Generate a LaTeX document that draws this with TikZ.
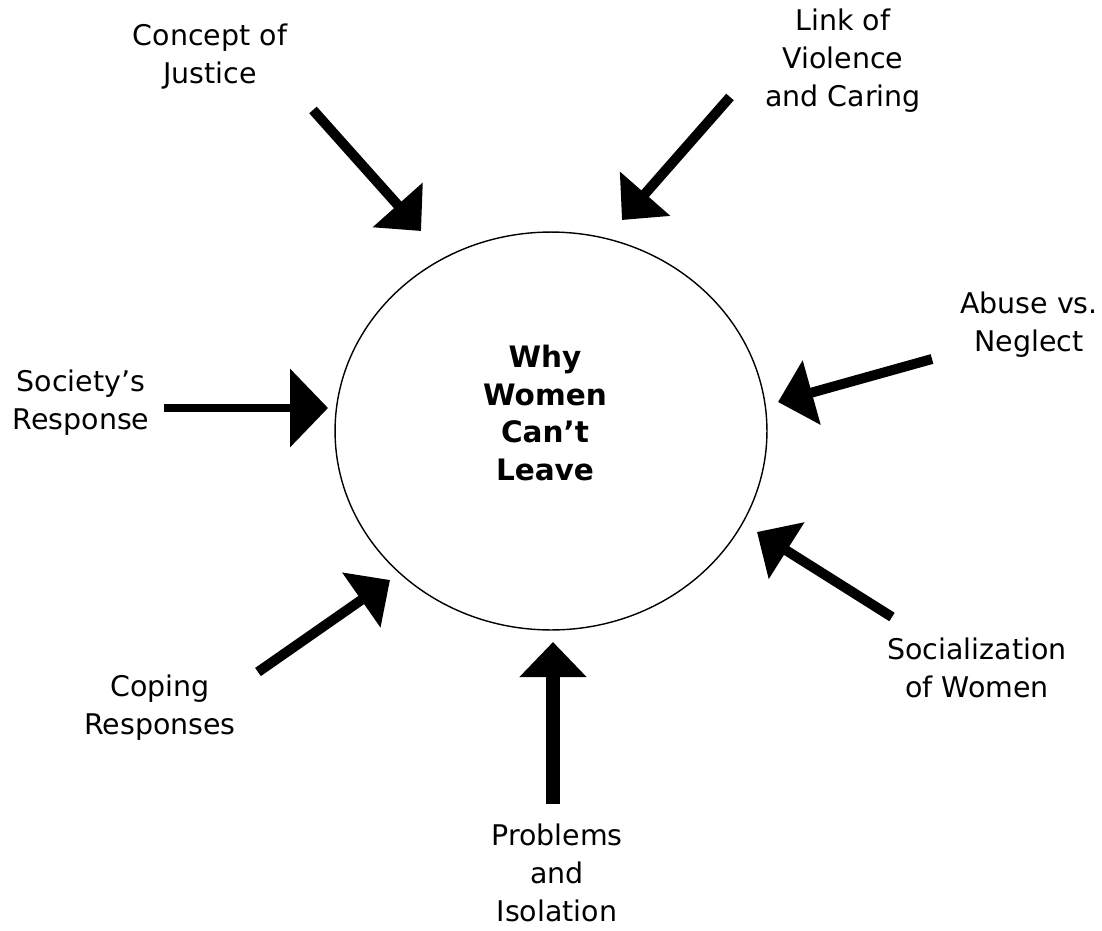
\documentclass[tikz,border=0pt]{standalone}
\usepackage{fontspec}
\setmainfont{DejaVu Sans}
\usepackage{xcolor}
\usetikzlibrary{arrows.meta,shapes.geometric}
\definecolor{cInk}{HTML}{000000}
\definecolor{cPaper}{HTML}{FFFFFF}
\tikzset{
  lbl/.style  ={align=center,inner sep=0pt,text=cInk,
                font=\fontsize{16.2}{21.6}\selectfont},
  hub/.style  ={ellipse,draw=cInk,line width=0.8pt,inner sep=0pt,
                minimum width=8.64cm,minimum height=7.96cm},
  ttl/.style  ={lbl,font=\fontsize{16.8}{21.6}\selectfont\bfseries},
  push/.style ={-{Triangle[length=0.7cm,width=1.3cm]},line width=0.2cm,cInk},
}

\begin{document}
\begin{tikzpicture}[x=0.02cm,y=-0.02cm]
\fill[cPaper] (0,0) rectangle (1102,930);
\useasboundingbox (0,0) rectangle (1102,930);
\node[hub] (why) at (551,431) {};
\node[ttl] (whyt) at (545,413) {Why\\Women\\Can't\\Leave};
% the seven factors round the hub
\node[lbl] (just) at (210,57)  {Concept of\\Justice};
\node[lbl] (link) at (843,61)  {Link of\\Violence\\and Caring};
\node[lbl] (abus) at (1029,325) {Abuse vs.\\Neglect};
\node[lbl] (soci) at (81,403)  {Society's\\Response};
\node[lbl] (cope) at (160,708) {Coping\\Responses};
\node[lbl] (womn) at (977,668) {Socialization\\of Women};
\node[lbl] (prob) at (557,873) {Problems\\and\\Isolation};
% arrow ends
\coordinate (justT) at (313,110);  \coordinate (justH) at (421,231);
\coordinate (linkT) at (730,97);   \coordinate (linkH) at (622,220);
\coordinate (abusT) at (932,359);  \coordinate (abusH) at (778,402);
\coordinate (womnT) at (892,617);  \coordinate (womnH) at (757,532);
\coordinate (probT) at (553,804);  \coordinate (probH) at (553,642);
\coordinate (copeT) at (258,672);  \coordinate (copeH) at (390,580);
\coordinate (sociT) at (164,408);  \coordinate (sociH) at (328,408);
\draw[push] (justT) -- (justH);
\draw[push] (linkT) -- (linkH);
\draw[push] (abusT) -- (abusH);
\draw[push] (womnT) -- (womnH);
\draw[push,line width=0.27cm] (probT) -- (probH);
\draw[push] (copeT) -- (copeH);
\draw[push,line width=0.16cm,-{Triangle[length=0.76cm,width=1.54cm]}] (sociT) -- (sociH);
\end{tikzpicture}
\end{document}
